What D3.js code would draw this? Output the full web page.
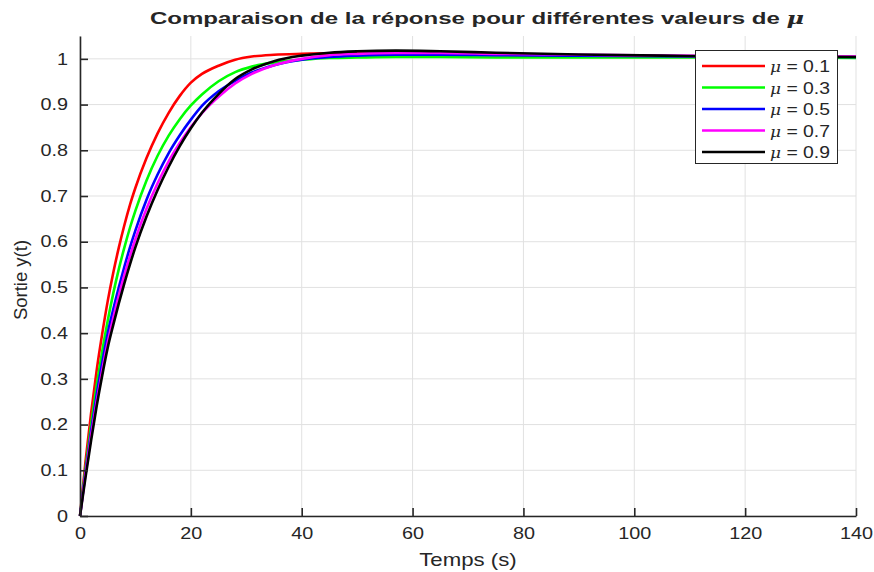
<!DOCTYPE html>
<html>
<head>
<meta charset="utf-8">
<script src="https://cdn.jsdelivr.net/npm/d3@7"></script>
<style>
  html, body { margin: 0; padding: 0; background: #fff; }
  svg { display: block; }
  text { font-family: "Liberation Sans", Arial, sans-serif; fill: #262626; }
</style>
</head>
<body>
<svg id="chart" width="874" height="572"></svg>
<script>
// ---- data ----
const times = [0, 1, 2, 3, 4, 5, 6, 7, 8, 9, 10, 12, 14, 16, 18, 20, 22, 25, 28, 31, 35, 40, 45, 50, 57, 65, 75, 90, 105, 120, 140];
const mu01 = [0, 0.12, 0.225, 0.318, 0.398, 0.47, 0.532, 0.587, 0.636, 0.68, 0.718, 0.783, 0.837, 0.882, 0.919, 0.948, 0.967, 0.985, 0.998, 1.005, 1.009, 1.011, 1.012, 1.012, 1.011, 1.010, 1.008, 1.006, 1.005, 1.004, 1.004];
const mu03 = [0, 0.105, 0.20, 0.285, 0.36, 0.427, 0.487, 0.54, 0.587, 0.63, 0.668, 0.734, 0.788, 0.832, 0.868, 0.898, 0.922, 0.951, 0.971, 0.983, 0.992, 0.998, 1.002, 1.003, 1.004, 1.004, 1.003, 1.003, 1.003, 1.003, 1.002];
const mu05 = [0, 0.097, 0.185, 0.265, 0.335, 0.40, 0.452, 0.50, 0.545, 0.587, 0.625, 0.692, 0.747, 0.794, 0.833, 0.867, 0.897, 0.929, 0.952, 0.97, 0.986, 0.998, 1.004, 1.007, 1.009, 1.009, 1.008, 1.007, 1.006, 1.005, 1.004];
const mu07 = [0, 0.092, 0.175, 0.25, 0.318, 0.38, 0.433, 0.482, 0.527, 0.568, 0.606, 0.672, 0.728, 0.776, 0.816, 0.851, 0.881, 0.917, 0.946, 0.967, 0.986, 1.0, 1.008, 1.011, 1.013, 1.013, 1.011, 1.009, 1.007, 1.006, 1.005];
const mu09 = [0, 0.085, 0.165, 0.24, 0.307, 0.368, 0.418, 0.465, 0.509, 0.55, 0.588, 0.655, 0.713, 0.764, 0.809, 0.848, 0.882, 0.923, 0.956, 0.977, 0.995, 1.007, 1.0135, 1.0165, 1.018, 1.0165, 1.0135, 1.0095, 1.007, 1.005, 1.004];
const seriesNames = ["0.1", "0.3", "0.5", "0.7", "0.9"];
const seriesValues = [mu01, mu03, mu05, mu07, mu09];
const seriesColors = ["#ff0000", "#00ff00", "#0000ff", "#ff00ff", "#000000"];
const xTicks = [0, 20, 40, 60, 80, 100, 120, 140];
const yTicks = [0, 0.1, 0.2, 0.3, 0.4, 0.5, 0.6, 0.7, 0.8, 0.9, 1];
const titleText = "Comparaison de la réponse pour différentes valeurs de ";
const xLabel = "Temps (s)";
const yLabel = "Sortie y(t)";

// ---- layout ----
const svg = d3.select("#chart");
const mLeft = 80, mRight = 856, mTop = 36, mBottom = 516;
const x = d3.scaleLinear().domain([0, 140]).range([mLeft, mRight]);
const y = d3.scaleLinear().domain([0, 1.05]).range([mBottom, mTop]);
const K = 1.2; // horizontal stretch of text seen in the reference

function stretch(sel, k) {
  sel.each(function () {
    const w = this.getComputedTextLength();
    d3.select(this).attr("textLength", w * k).attr("lengthAdjust", "spacingAndGlyphs");
  });
}

// grid
const grid = svg.append("g");
grid.selectAll("line.v").data(xTicks).join("line")
  .attr("x1", d => x(d)).attr("x2", d => x(d))
  .attr("y1", mTop).attr("y2", mBottom)
  .attr("stroke", "#e1e1e1").attr("stroke-width", 1);
grid.selectAll("line.h").data(yTicks).join("line")
  .attr("x1", mLeft).attr("x2", mRight)
  .attr("y1", d => y(d)).attr("y2", d => y(d))
  .attr("stroke", "#e1e1e1").attr("stroke-width", 1);

// curves
const line = d3.line().x(d => x(d[0])).y(d => y(d[1])).curve(d3.curveMonotoneX);
seriesValues.forEach((vals, i) => {
  svg.append("path")
    .datum(times.map((t, j) => [t, vals[j]]))
    .attr("d", line)
    .attr("fill", "none")
    .attr("stroke", seriesColors[i])
    .attr("stroke-width", 2.6)
    .attr("stroke-linejoin", "round");
});

// axes
const xAxis = svg.append("g").attr("transform", `translate(0,${mBottom})`)
  .call(d3.axisBottom(x).tickValues(xTicks).tickSizeInner(-8).tickSizeOuter(0).tickPadding(8).tickFormat(d3.format("d")));
const yAxis = svg.append("g").attr("transform", `translate(${mLeft},0)`)
  .call(d3.axisLeft(y).tickValues(yTicks).tickSizeInner(-8).tickSizeOuter(0).tickPadding(12).tickFormat(d => d === 0 || d === 1 ? d3.format("d")(d) : d3.format(".1f")(d)));
[xAxis, yAxis].forEach(a => {
  a.select(".domain").attr("stroke", "#262626").attr("stroke-width", 1.6);
  a.selectAll(".tick line").attr("stroke", "#262626").attr("stroke-width", 1.6);
  a.selectAll(".tick text").attr("font-size", 16.5).attr("fill", "#262626")
    .attr("font-family", "Liberation Sans, Arial, sans-serif");
});
xAxis.selectAll(".tick text").attr("dy", "0.9em");
stretch(xAxis.selectAll(".tick text"), K);
stretch(yAxis.selectAll(".tick text"), K);

// axis labels
const xl = svg.append("text").attr("x", (mLeft + mRight) / 2).attr("y", 566)
  .attr("text-anchor", "middle").attr("font-size", 18.5).text(xLabel);
stretch(xl, K);
svg.append("text").attr("transform", `translate(27,${(mTop + mBottom) / 2 + 4}) rotate(-90)`)
  .attr("text-anchor", "middle").attr("font-size", 18.5).text(yLabel);

// title
const title = svg.append("text").attr("x", 477).attr("y", 24)
  .attr("text-anchor", "middle").attr("font-size", 16).attr("font-weight", "bold").attr("fill", "#000");
title.append("tspan").text(titleText);
title.append("tspan").attr("font-style", "italic").attr("font-family", "DejaVu Serif, serif").text("μ");
title.attr("textLength", 654).attr("lengthAdjust", "spacingAndGlyphs");

// legend
const lg = svg.append("g");
lg.append("rect").attr("x", 695.5).attr("y", 50.5).attr("width", 142).attr("height", 113)
  .attr("fill", "#fff").attr("stroke", "#262626").attr("stroke-width", 1);
const rowY = d3.scalePoint().domain(seriesNames).range([66, 152]);
seriesNames.forEach((n, i) => {
  const yy = rowY(n);
  lg.append("line").attr("x1", 702).attr("x2", 765).attr("y1", yy).attr("y2", yy)
    .attr("stroke", seriesColors[i]).attr("stroke-width", 2.6);
  const t = lg.append("text").attr("x", 770).attr("y", yy + 6).attr("font-size", 16).attr("fill", "#000");
  t.append("tspan").attr("font-style", "italic").attr("font-family", "DejaVu Serif, serif").attr("font-size", 14).text("μ");
  t.append("tspan").text(" = " + n);
  t.attr("textLength", 60).attr("lengthAdjust", "spacingAndGlyphs");
});
</script>
</body>
</html>
